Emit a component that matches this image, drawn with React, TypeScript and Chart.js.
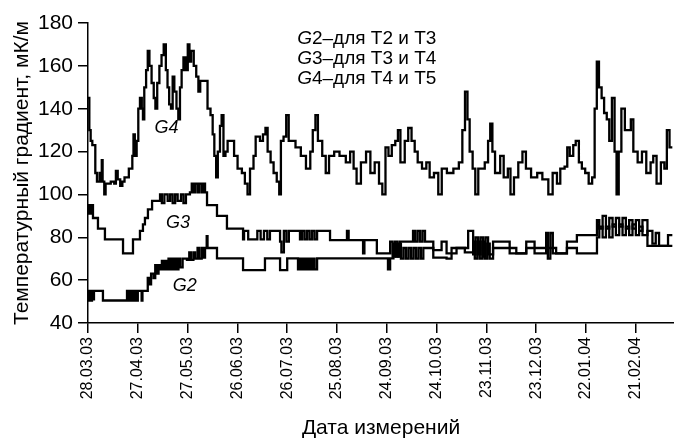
import React, { useEffect, useRef } from 'react';
import { Chart, registerables } from 'chart.js';

Chart.register(...registerables);

const FONT = '"Liberation Sans", Arial, sans-serif';

const xTickLabels = ['28.03.03', '27.04.03', '27.05.03', '26.06.03', '26.07.03', '25.08.03', '24.09.03', '24.10.03', '23.11.03', '23.12.03', '22.01.04', '21.02.04'];
const yMin = 40;
const yMax = 180;
const yStep = 20;

// [day since 28.03.03, gradient mK/m]
const g4Points: [number, number][] = [
  [0, 145], [0.8, 130], [1.6, 125], [2.6, 123], [4.4, 110], [5.4, 106], [7.0, 110], [7.5, 106], [8.3, 116], [8.8, 106],
  [9.8, 100], [10.6, 105], [13.7, 106], [15.8, 105], [16.8, 111], [17.9, 107], [19.4, 104], [20.7, 106], [22.0, 108], [24.6, 112],
  [26.7, 118], [27.4, 128], [28.2, 118], [29.3, 125], [30.3, 140], [31.3, 145], [32.4, 140], [33.1, 135], [33.9, 150], [35.0, 158],
  [36.0, 167], [37.0, 160], [38.3, 152], [39.6, 145], [40.6, 140], [41.7, 152], [43.0, 160], [44.3, 165], [45.6, 170], [46.9, 158],
  [47.9, 150], [48.9, 142], [50.0, 140], [51.0, 155], [52.0, 148], [53.3, 140], [54.4, 135], [55.4, 150], [56.4, 158], [57.5, 164],
  [58.8, 158], [60.1, 170], [61.1, 162], [62.1, 167], [63.7, 160], [65.2, 155], [66.5, 148], [67.6, 153], [70.7, 153], [72.0, 140],
  [73.8, 137], [75.1, 128], [76.1, 118], [77.2, 108], [78.2, 120], [79.5, 132], [80.5, 137], [81.6, 118], [82.8, 120], [84.1, 125],
  [86.7, 125], [88.0, 118], [90.1, 112], [92.7, 110], [94.5, 105], [96.1, 100], [97.6, 112], [99.7, 118], [101.0, 127], [103.6, 125],
  [105.4, 128], [106.9, 131], [108.2, 120], [110.0, 115], [111.8, 110], [113.7, 106], [115.2, 100], [116.2, 125], [117.8, 127], [119.4, 137],
  [120.9, 125], [125.0, 122], [128.2, 118], [131.3, 112], [133.9, 120], [135.4, 130], [137.0, 137], [138.5, 125], [141.1, 118], [143.2, 110],
  [145.2, 118], [148.3, 120], [151.5, 118], [155.3, 115], [157.9, 120], [160.0, 112], [161.8, 105], [164.4, 115], [167.5, 120], [170.1, 110],
  [172.7, 115], [175.3, 105], [177.3, 100], [179.2, 122], [181.0, 118], [183.0, 123], [185.1, 125], [186.7, 130], [188.2, 115], [190.8, 125],
  [192.9, 131], [194.9, 125], [196.8, 120], [198.6, 115], [201.2, 112], [203.8, 115], [205.8, 108], [208.4, 110], [211.0, 100], [213.1, 112],
  [216.2, 110], [220.1, 112], [223.4, 115], [225.5, 130], [227.1, 148], [228.6, 135], [229.9, 120], [231.7, 112], [233.3, 100], [235.1, 112],
  [239.0, 115], [241.0, 125], [242.3, 133], [243.6, 120], [245.2, 110], [248.3, 118], [250.4, 108], [252.9, 112], [254.5, 100], [256.6, 108],
  [259.2, 115], [261.7, 120], [263.8, 112], [266.9, 108], [270.6, 110], [273.7, 107], [277.3, 100], [279.9, 110], [282.5, 105], [284.5, 112],
  [287.1, 113], [288.7, 122], [290.2, 118], [292.3, 123], [293.8, 125], [295.7, 115], [297.5, 112], [299.5, 110], [301.6, 105], [303.7, 108],
  [305.2, 140], [306.5, 162], [307.8, 150], [309.4, 145], [310.9, 138], [312.5, 135], [314.0, 125], [315.6, 145], [317.2, 120], [318.4, 100],
  [319.7, 120], [321.3, 140], [323.4, 130], [327.0, 135], [328.5, 120], [331.1, 115], [333.7, 120], [336.3, 110], [338.9, 115], [340.5, 118],
  [342.5, 105], [345.1, 115], [347.2, 112], [348.7, 130], [350.3, 122], [352, 122],
];

const g3Points: [number, number][] = [
  [0, 95], [0.6, 91], [1.2, 95], [1.8, 91], [2.4, 95], [3, 89], [6, 84], [10.2, 79], [21.1, 72.5], [27.1, 79],
  [31.3, 83], [33.1, 86], [34.3, 89], [36.1, 93], [38.6, 97], [43.4, 100], [44.5, 96], [46, 100], [48, 97], [49.5, 100],
  [51, 96], [52.5, 100], [54, 97], [56, 100], [57.5, 96], [59, 100], [61.4, 101], [62.5, 105], [63.5, 101], [64.5, 105],
  [66, 101], [67, 105], [68.5, 101], [69.5, 105], [70.5, 101], [71.7, 95], [77.7, 90], [83.7, 84], [93.4, 79], [94, 83],
  [96.5, 79], [102, 83], [104, 79], [106, 83], [108, 79], [109.6, 83], [115.7, 78], [116.5, 73], [118, 83], [119.5, 78],
  [121, 83], [127.7, 79], [129, 83], [130.5, 79], [132, 83], [133.5, 79], [135, 83], [136.5, 79], [138, 83], [145.8, 78.7],
  [156, 83], [157, 78.7], [165.7, 72.5], [166.5, 78.7], [174, 72.5], [182, 78], [183.5, 71], [185, 78], [186.5, 71], [188, 78],
  [195.8, 83], [197, 78], [198.5, 83], [200, 78], [201.5, 83], [203, 78], [208, 74], [213, 78], [216, 72.5], [222, 75],
  [229, 83], [232, 72], [233.5, 80], [235, 72], [236.5, 80], [238, 71], [239.5, 80], [241, 72], [244, 78], [254, 72.5],
  [264, 78], [269, 72.5], [276, 82], [277, 70], [278.5, 82], [280, 72.5], [288.5, 78], [294.5, 81], [306.6, 88], [308, 84],
  [310, 90], [312, 84], [314, 89], [316, 85], [318, 89], [320, 85], [322, 89], [324, 84], [326, 88], [328, 84],
  [330, 88], [332, 83], [334, 88], [337, 76], [349.4, 81], [352, 81],
];

const g2Points: [number, number][] = [
  [0, 55], [0.6, 50.5], [1.2, 55], [1.8, 50.5], [2.4, 55], [3, 51], [3.6, 55], [9, 50.5], [23.5, 55], [24.3, 50.5],
  [25.1, 55], [25.9, 50.5], [26.7, 55], [27.5, 50.5], [28.3, 55], [29.1, 50.5], [30, 55], [32.3, 50.5], [32.8, 55], [36, 61],
  [37, 58], [38, 63], [39.5, 61], [40.5, 67], [41.5, 63], [42.5, 67], [43.4, 65], [44.5, 69], [45.5, 65], [46.5, 69],
  [47.5, 65], [48.5, 70], [49.5, 65], [50.5, 70], [51.5, 65], [52.5, 70], [53.5, 65], [54.5, 70], [55.5, 66], [57, 70],
  [59.6, 69.5], [61, 73], [62, 69.5], [63.5, 73], [64.5, 70], [66, 75], [67, 70], [68.5, 75], [69.5, 70.5], [70.5, 75],
  [71.5, 80.5], [72, 75], [77.7, 70.2], [93.4, 64.7], [106.6, 70.2], [115.7, 64.7], [120, 70.2], [126.5, 65], [127.5, 70], [128.5, 65],
  [129.5, 70], [130.5, 65], [131.5, 70], [132.5, 65], [133.5, 70], [134.5, 65], [135.5, 70], [136.5, 65], [138, 70.2], [180.7, 65],
  [182, 70.2], [184, 77], [185.5, 71], [187, 77], [188.5, 70], [190, 75], [191.5, 70], [193, 75], [194.5, 70], [196, 75],
  [197.5, 70], [199, 75], [200.5, 70], [202, 75], [208, 70.5], [216, 70], [219, 75], [227, 73], [232, 78], [233, 70],
  [234.5, 78], [236, 70], [237.5, 78], [239, 70], [240.5, 77], [242, 70], [244, 75], [258, 72.5], [264, 75], [282, 72.5],
  [288.5, 75], [294.5, 72.5], [306.6, 80], [308, 85], [310, 80], [312, 85], [314, 80], [316, 86], [318, 81], [320, 86],
  [322, 81], [324, 85], [326, 81], [328, 86], [330, 81], [332, 85], [334, 81], [337, 83], [340, 77], [342, 82],
  [344, 76], [349.4, 76], [352, 76],
];

const seriesNames = ['G2', 'G3', 'G4'];
const noteTexts = ['2–для T2 и T3', '3–для T3 и T4', '4–для T4 и T5'];
const axisTitleY = 'Температурный градиент, мК/м';
const axisTitleX = 'Дата измерений';

const labelPlugin = {
  id: 'textLabels',
  afterDatasetsDraw(chart: any) {
    const { ctx, scales } = chart;
    const x = scales.x;
    const y = scales.y;
    ctx.save();
    ctx.fillStyle = '#000';
    ctx.textBaseline = 'middle';
    ctx.textAlign = 'left';
    const labelAnchors = [
      { day: 51, value: 57.5 },
      { day: 47, value: 86.5 },
      { day: 40, value: 131 },
    ];
    seriesNames.forEach((name, i) => {
      ctx.font = `italic 18px ${FONT}`;
      ctx.fillText(name, x.getPixelForValue(labelAnchors[i].day), y.getPixelForValue(labelAnchors[i].value));
    });
    const noteDay = 126;
    const noteValues = [172.5, 163.3, 154.2];
    noteTexts.forEach((t, i) => {
      const px = x.getPixelForValue(noteDay);
      const py = y.getPixelForValue(noteValues[i]);
      ctx.font = `italic 19px ${FONT}`;
      ctx.fillText('G', px, py);
      const w = ctx.measureText('G').width;
      ctx.font = `19px ${FONT}`;
      ctx.fillText(t, px + w, py);
    });
    ctx.restore();
  },
};

export default function App() {
  const ref = useRef<HTMLCanvasElement | null>(null);
  useEffect(() => {
    if (!ref.current) return;
    const mk = (pts: [number, number][], label: string) => ({
      label,
      data: pts.map(([d, v]) => ({ x: d, y: v })),
      borderColor: '#000',
      backgroundColor: '#000',
      borderWidth: 2.3,
      pointRadius: 0,
      stepped: true,
      fill: false,
    });
    const chart = new Chart(ref.current, {
      type: 'line',
      data: {
        datasets: [mk(g4Points, 'G4'), mk(g3Points, 'G3'), mk(g2Points, 'G2')],
      },
      options: {
        animation: false,
        responsive: false,
        devicePixelRatio: 1,
        layout: { padding: { top: 23, right: 0, left: 0, bottom: 0 } },
        plugins: { legend: { display: false }, tooltip: { enabled: false } },
        scales: {
          x: {
            type: 'linear',
            min: 0,
            max: 353,
            afterBuildTicks: (axis: any) => {
              axis.ticks = xTickLabels.map((_, i) => ({ value: i * 30 }));
            },
            afterFit: (axis: any) => {
              axis.height = 118;
            },
            ticks: {
              autoSkip: false,
              minRotation: 90,
              maxRotation: 90,
              padding: 4,
              color: '#000',
              font: { size: 16, family: FONT },
              callback: (v: any) => xTickLabels[Math.round(Number(v) / 30)] ?? '',
            },
            grid: { display: true, drawOnChartArea: false, drawTicks: true, tickLength: 10, color: '#000', lineWidth: 1.5 },
            border: { display: true, color: '#000', width: 1.5 },
            title: { display: true, text: axisTitleX, color: '#000', font: { size: 21, family: FONT }, padding: { top: 0, bottom: 0 } },
          },
          y: {
            type: 'linear',
            min: yMin,
            max: yMax,
            afterFit: (axis: any) => {
              axis.width = 88;
            },
            ticks: { stepSize: yStep, padding: 5, color: '#000', font: { size: 21, family: FONT } },
            grid: { display: true, drawOnChartArea: false, drawTicks: true, tickLength: 10, color: '#000', lineWidth: 1.5 },
            border: { display: true, color: '#000', width: 1.5 },
            title: { display: true, text: axisTitleY, color: '#000', font: { size: 21, family: FONT }, padding: { top: 10, bottom: 0 } },
          },
        },
      },
      plugins: [labelPlugin],
    } as any);
    return () => chart.destroy();
  }, []);
  return (
    <div style={{ position: 'fixed', left: 0, top: 0, width: 674, height: 441, background: '#fff' }}>
      <canvas ref={ref} width={674} height={441} style={{ display: 'block', width: 674, height: 441 }} />
    </div>
  );
}
